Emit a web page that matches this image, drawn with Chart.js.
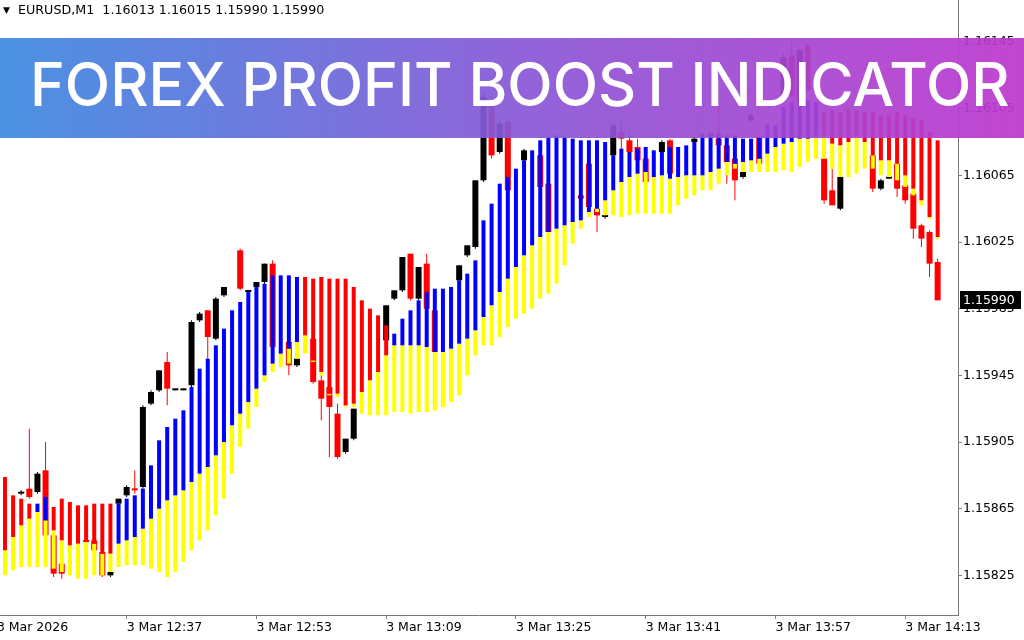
<!DOCTYPE html>
<html>
<head>
<meta charset="utf-8">
<script src="https://cdn.jsdelivr.net/npm/chart.js@4.4.1/dist/chart.umd.min.js"></script>
<style>
html,body{margin:0;padding:0;background:#fff;width:1024px;height:640px;overflow:hidden}
#wrap{position:relative;width:1024px;height:640px}
#c{position:absolute;left:0;top:0}
#hdr{position:absolute;left:3px;top:2px;font:12.7px "DejaVu Sans",sans-serif;color:#000;white-space:pre}
#hdr .tri{font-size:9px;position:relative;top:-1px}
#banner{position:absolute;left:0;top:38px;width:1024px;height:100px;
  background:linear-gradient(90deg,rgba(60,138,225,0.93) 0%,rgba(136,88,214,0.93) 50%,rgba(190,56,206,0.93) 100%)}
#title{position:absolute;left:30px;top:0;height:100px;line-height:100px;color:#fff;
  font-family:Inter,"Open Sans",sans-serif;font-weight:500;font-size:60px;white-space:nowrap;transform-origin:0 50%}
</style>
</head>
<body>
<div id="wrap">
<canvas id="c" width="1024" height="640"></canvas>
<div id="hdr"></div>
<div id="banner"><div id="title">FOREX PROFIT BOOST INDICATOR</div></div>
</div>
<script>
// ---- indicator bands (one value per one-minute bar) ----
const upper = [1.15884,1.15873,1.15871,1.15868,1.15868,1.15872,1.15866,1.15871,1.15869,1.15867,
 1.15867,1.15868,1.15868,1.15868,1.15868,1.15871,1.15873,1.15877,1.15891,1.15906,
 1.15914,1.15919,1.15924,1.15938,1.15949,1.15955,1.15963,1.15973,1.15984,1.15989,
 1.15995,1.15998,1.16000,1.16005,1.16005,1.16005,1.16004,1.16004,1.16003,1.16004,
 1.16003,1.16003,1.16003,1.15998,1.15990,1.15985,1.15981,1.15975,1.15970,1.15979,
 1.15984,1.15990,1.15995,1.15997,1.15997,1.15998,1.16002,1.16006,1.16014,1.16038,
 1.16048,1.16060,1.16064,1.16069,1.16074,1.16080,1.16086,1.16088,1.16089,1.16088,
 1.16087,1.16086,1.16086,1.16086,1.16085,1.16077,1.16081,1.16079,1.16081,1.16082,
 1.16080,1.16079,1.16082,1.16082,1.16083,1.16085,1.16090,1.16090,1.16090,1.16089,
 1.16089,1.16087,1.16087,1.16088,1.16096,1.16095,1.16106,1.16109,1.16110,1.16110,
 1.16109,1.16103,1.16104,1.16103,1.16105,1.16104,1.16103,1.16103,1.16101,1.16101,
 1.16103,1.16101,1.16099,1.16098,1.16091,1.16086];
const middle = [1.15840,1.15848,1.15855,1.15859,1.15863,1.15858,1.15852,1.15846,1.15843,1.15844,
 1.15845,1.15844,1.15838,1.15838,1.15844,1.15846,1.15848,1.15853,1.15859,1.15865,
 1.15870,1.15873,1.15876,1.15881,1.15886,1.15890,1.15897,1.15905,1.15915,1.15922,
 1.15929,1.15937,1.15945,1.15952,1.15958,1.15961,1.15965,1.15969,1.15954,1.15947,
 1.15934,1.15934,1.15927,1.15928,1.15935,1.15942,1.15947,1.15957,1.15963,1.15963,
 1.15963,1.15963,1.15962,1.15959,1.15959,1.15961,1.15964,1.15967,1.15972,1.15980,
 1.15987,1.15995,1.16003,1.16010,1.16017,1.16023,1.16028,1.16031,1.16033,1.16035,
 1.16037,1.16038,1.16043,1.16045,1.16050,1.16056,1.16061,1.16064,1.16066,1.16067,
 1.16064,1.16065,1.16063,1.16064,1.16065,1.16065,1.16065,1.16067,1.16069,1.16073,
 1.16072,1.16073,1.16074,1.16075,1.16078,1.16082,1.16084,1.16085,1.16087,1.16087,
 1.16088,1.16089,1.16084,1.16083,1.16085,1.16089,1.16085,1.16077,1.16074,1.16074,
 1.16072,1.16065,1.16057,1.16050,1.16040,1.16028];
const lower = [1.15825,1.15828,1.15830,1.15830,1.15830,1.15830,1.15829,1.15827,1.15825,1.15823,
 1.15823,1.15825,1.15825,1.15827,1.15830,1.15831,1.15831,1.15831,1.15829,1.15827,
 1.15824,1.15827,1.15833,1.15840,1.15846,1.15852,1.15861,1.15871,1.15886,1.15902,
 1.15913,1.15926,1.15941,1.15947,1.15950,1.15952,1.15955,1.15958,1.15953,1.15945,
 1.15933,1.15932,1.15926,1.15926,1.15922,1.15921,1.15921,1.15921,1.15923,1.15923,
 1.15922,1.15923,1.15923,1.15924,1.15926,1.15929,1.15933,1.15945,1.15957,1.15963,
 1.15963,1.15968,1.15974,1.15979,1.15982,1.15985,1.15991,1.15994,1.16000,1.16011,
 1.16024,1.16033,1.16040,1.16043,1.16041,1.16041,1.16040,1.16041,1.16042,1.16042,
 1.16042,1.16042,1.16042,1.16047,1.16051,1.16053,1.16056,1.16056,1.16060,1.16065,
 1.16069,1.16067,1.16067,1.16067,1.16067,1.16067,1.16068,1.16067,1.16070,1.16073,
 1.16075,1.16075,1.16069,1.16064,1.16064,1.16066,1.16069,1.16069,1.16065,1.16064,
 1.16062,1.16058,1.16053,1.16047,1.16039,1.16027];
const trend = ['down','down','down','down','up','up','down','down','down','down',
 'down','down','down','down','up','up','up','up','up','up',
 'up','up','up','up','up','up','up','up','up','up',
 'up','up','up','up','up','up','up','down','down','down',
 'down','down','down','down','down','down','down','down','up','up',
 'up','up','up','up','up','up','up','up','up','up',
 'up','up','up','up','up','up','up','up','up','up',
 'up','up','up','up','up','up','up','up','up','up',
 'up','up','up','up','up','up','up','up','up','up',
 'up','up','up','up','up','up','up','up','up','up',
 'up','down','down','down','down','down','down','down','down','down',
 'down','down','down','down','down','down'];

// ---- candles (null = candle hidden behind the indicator) ----
const open = [null,null,1.15874,1.15877,1.15875,1.15888,1.15849,1.15832,null,null,
 1.15846,1.15846,1.15839,1.15825,1.15868,1.15873,1.15877,1.15878,1.15928,1.15936,
 1.15953,1.15936,1.15936,1.15939,1.15978,1.15984,1.15967,1.15993,null,1.16020,
 1.15995,1.15998,1.16001,1.16012,null,1.15965,1.15951,null,1.15967,1.15942,
 1.15938,1.15922,1.15899,1.15907,null,null,null,1.15966,1.15991,1.15996,
 1.16018,1.15991,1.16012,1.15984,null,null,1.16002,1.16017,1.16022,1.16062,
 1.16108,1.16079,1.16097,null,1.16074,null,1.16077,1.16060,null,null,
 null,1.16053,1.16072,1.16045,1.16040,1.16077,1.16091,1.16086,1.16082,1.16075,
 null,1.16079,1.16086,null,null,1.16085,null,1.16090,1.16087,1.16083,
 1.16075,1.16064,1.16098,1.16088,null,null,1.16110,1.16137,1.16110,1.16143,
 null,1.16075,1.16056,1.16045,null,null,null,1.16077,1.16057,1.16063,
 1.16072,1.16059,1.16054,1.16035,1.16031,1.16013];
const high = [null,null,1.15876,1.15913,1.15887,1.15905,1.15850,1.15833,null,null,
 1.15847,1.15847,1.15839,1.15827,1.15871,1.15879,1.15888,1.15927,1.15936,1.15948,
 1.15959,1.15937,1.15937,1.15978,1.15983,1.15984,1.15992,1.15998,null,1.16021,
 1.15996,1.16001,1.16012,1.16014,null,1.15966,1.15955,null,1.15967,1.15945,
 1.15942,1.15928,1.15907,1.15925,null,null,null,1.15987,1.15996,1.16016,
 1.16018,1.16010,1.16018,1.15984,null,null,1.16011,1.16023,1.16062,1.16114,
 1.16113,1.16097,1.16098,null,1.16081,null,1.16078,1.16061,null,null,
 null,1.16053,1.16074,1.16047,1.16041,1.16096,1.16098,1.16093,1.16087,1.16076,
 null,1.16086,1.16087,null,null,1.16088,null,1.16091,1.16106,1.16084,
 1.16076,1.16068,1.16102,1.16089,null,null,1.16138,1.16147,1.16141,1.16144,
 null,1.16076,1.16069,1.16065,null,null,null,1.16078,1.16063,1.16064,
 1.16073,1.16060,1.16055,1.16036,1.16032,1.16015];
const low = [null,null,1.15873,1.15871,1.15874,1.15848,1.15824,1.15823,null,null,
 1.15844,1.15839,1.15824,1.15824,1.15867,1.15872,1.15874,1.15877,1.15927,1.15935,
 1.15927,1.15936,1.15936,1.15938,1.15977,1.15955,1.15966,1.15992,null,1.15996,
 1.15994,1.15998,1.16000,1.15961,null,1.15945,1.15950,null,1.15940,1.15918,
 1.15896,1.15895,1.15898,1.15906,null,null,null,1.15965,1.15990,1.15995,
 1.15990,1.15990,1.15984,1.15958,null,null,1.16001,1.16016,1.16021,1.16061,
 1.16075,1.16078,1.16055,null,1.16073,null,1.16057,1.16030,null,null,
 null,1.16051,1.16044,1.16031,1.16039,1.16076,1.16081,1.16075,1.16073,1.16060,
 null,1.16078,1.16065,null,null,1.16084,null,1.16088,1.16082,1.16060,
 1.16050,1.16063,1.16097,1.16071,null,null,1.16109,1.16111,1.16109,1.16115,
 null,1.16048,1.16047,1.16044,null,null,null,1.16055,1.16056,1.16063,
 1.16052,1.16048,1.16027,1.16022,1.16004,1.15990];
const close = [null,null,1.15875,1.15872,1.15886,1.15849,1.15826,1.15826,null,null,
 1.15845,1.15840,1.15825,1.15827,1.15871,1.15878,1.15876,1.15926,1.15935,1.15948,
 1.15937,1.15937,1.15937,1.15977,1.15982,1.15968,1.15991,1.15998,null,1.15997,
 1.15996,1.16001,1.16012,1.15962,null,1.15951,1.15955,null,1.15941,1.15931,
 1.15926,1.15896,1.15907,1.15925,null,null,null,1.15987,1.15996,1.16016,
 1.15991,1.16010,1.15985,1.15959,null,null,1.16011,1.16023,1.16062,1.16112,
 1.16077,1.16096,1.16056,null,1.16080,null,1.16058,1.16031,null,null,
 null,1.16051,1.16046,1.16041,1.16041,1.16095,1.16087,1.16079,1.16074,1.16061,
 null,1.16085,1.16066,null,null,1.16087,null,1.16089,1.16083,1.16073,
 1.16062,1.16067,1.16101,1.16072,null,null,1.16136,1.16113,1.16140,1.16116,
 null,1.16050,1.16047,1.16064,null,null,null,1.16057,1.16062,1.16064,
 1.16057,1.16050,1.16033,1.16027,1.16012,1.15990];

// ---- axes ----
const yTicks = [1.16145,1.16105,1.16065,1.16025,1.15985,1.15945,1.15905,1.15865,1.15825];
const xTickIndex = [-1,15,31,47,63,79,95,111];
const xTickLabels = ['3 Mar 2026','3 Mar 12:37','3 Mar 12:53','3 Mar 13:09','3 Mar 13:25','3 Mar 13:41','3 Mar 13:57','3 Mar 14:13'];
const symbol = 'EURUSD,M1';

const last = close.length - 1;
document.getElementById('hdr').innerHTML = '<span class="tri">\u25BC</span>  ' + symbol + '  ' +
  [open[last], high[last], low[last], close[last]].map(v => v.toFixed(5)).join(' ');

const idx = upper.map((_, i) => i);
const candleColor = open.map((o, i) => o === null ? '#000000' : (close[i] >= o ? '#000000' : '#ff0000'));
const trendColor = trend.map(t => t === 'up' ? '#0000ff' : '#ff0000');

const priceBox = {
  id: 'priceBox',
  afterDraw(chart) {
    const ctx = chart.ctx, ys = chart.scales.y;
    const y = Math.round(ys.getPixelForValue(close[last]));
    ctx.save();
    ctx.fillStyle = '#000';
    ctx.fillRect(960, y - 9, 61, 18);
    ctx.fillStyle = '#fff';
    ctx.font = '12.5px "DejaVu Sans"';
    ctx.textBaseline = 'middle';
    ctx.textAlign = 'left';
    ctx.fillText(close[last].toFixed(5), 963, y + 1);
    ctx.restore();
  }
};

const axisFont = {family: 'DejaVu Sans', size: 12.5};
new Chart(document.getElementById('c'), {
  type: 'bar',
  data: {
    datasets: [
      {label: 'wick', data: idx.map(i => ({x: i, y: low[i] === null ? null : [low[i], high[i]]})),
       backgroundColor: candleColor, barThickness: 1, minBarLength: 1, order: 4, grouped: false, inflateAmount: 0},
      {label: 'body', data: idx.map(i => ({x: i, y: open[i] === null ? null : [open[i], close[i]]})),
       backgroundColor: candleColor, barThickness: 6, minBarLength: 2, order: 3, grouped: false, inflateAmount: 0},
      {label: 'lower', data: idx.map(i => ({x: i, y: [lower[i], middle[i]]})),
       backgroundColor: '#ffff00', barThickness: 4, order: 2, grouped: false, inflateAmount: 0},
      {label: 'upper', data: idx.map(i => ({x: i, y: [middle[i], upper[i]]})),
       backgroundColor: trendColor, barThickness: 4, order: 1, grouped: false, inflateAmount: 0}
    ]
  },
  options: {
    responsive: false,
    animation: false,
    devicePixelRatio: 1,
    layout: {padding: 0},
    plugins: {legend: {display: false}, tooltip: {enabled: false}},
    scales: {
      x: {
        type: 'linear', min: -0.6165, max: 117.51, offset: false,
        grid: {display: true, drawOnChartArea: false, drawTicks: true, tickLength: 4, color: '#808080', offset: false},
        border: {display: true, color: '#787878', width: 1},
        ticks: {autoSkip: false, maxRotation: 0, minRotation: 0, align: 'start', padding: 1, color: '#000', font: axisFont,
          callback: v => { const k = xTickIndex.indexOf(v); return k >= 0 ? xTickLabels[k] : ''; }},
        afterBuildTicks: s => { s.ticks = xTickIndex.map(v => ({value: v})); },
        afterFit: s => { s.height = 25; s.paddingLeft = 0; s.paddingRight = 0; s.paddingTop = 0; s.paddingBottom = 0; }
      },
      y: {
        type: 'linear', position: 'right', min: 1.158012, max: 1.161702,
        grid: {display: true, drawOnChartArea: false, drawTicks: true, tickLength: 4, color: '#808080'},
        border: {display: true, color: '#787878', width: 1},
        ticks: {autoSkip: false, padding: 1, color: '#000', font: axisFont, callback: v => Number(v).toFixed(5)},
        afterBuildTicks: s => { s.ticks = yTicks.map(v => ({value: v})); },
        afterFit: s => { s.width = 66; s.paddingTop = 0; s.paddingBottom = 0; s.paddingLeft = 0; s.paddingRight = 0; }
      }
    }
  },
  plugins: [priceBox]
});

const t = document.getElementById('title');
const w = t.offsetWidth;
t.style.transform = 'translateY(-4px) scaleX(' + (980 / w) + ')';
</script>
</body>
</html>
